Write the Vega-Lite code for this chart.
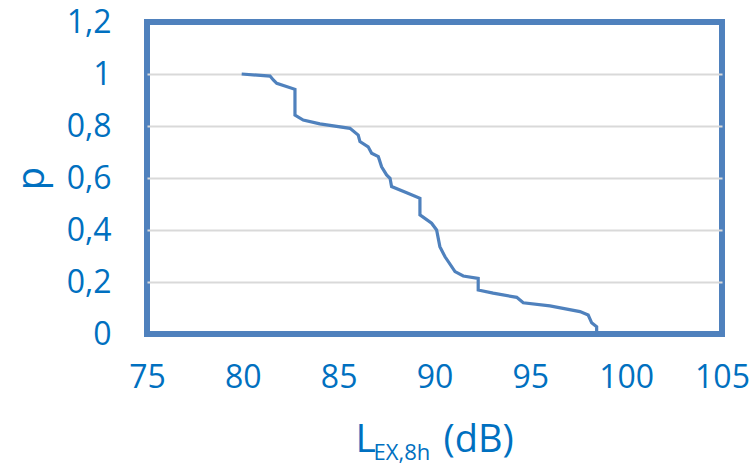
{
  "$schema": "https://vega.github.io/schema/vega-lite/v6.json",
  "width": 575,
  "height": 312,
  "autosize": {"type": "none"},
  "padding": {"left": 147, "top": 22, "right": 32, "bottom": 130},
  "background": "#FFFFFF",
  "config": {
    "view": {"stroke": "#4F81BD", "strokeWidth": 6},
    "axis": {"labelFont": "Open Sans", "titleFont": "Open Sans", "labelColor": "#0070C0", "titleColor": "#0070C0", "titleFontWeight": "normal"}
  },
  "data": {
    "values": [
      {"L": 79.94, "p": 1.0},
      {"L": 81.42, "p": 0.992},
      {"L": 81.59, "p": 0.977},
      {"L": 81.77, "p": 0.964},
      {"L": 82.72, "p": 0.941},
      {"L": 82.72, "p": 0.842},
      {"L": 83.15, "p": 0.823},
      {"L": 84.02, "p": 0.808},
      {"L": 85.59, "p": 0.791},
      {"L": 86.02, "p": 0.765},
      {"L": 86.11, "p": 0.74},
      {"L": 86.54, "p": 0.72},
      {"L": 86.72, "p": 0.695},
      {"L": 87.07, "p": 0.682},
      {"L": 87.24, "p": 0.643},
      {"L": 87.5, "p": 0.612},
      {"L": 87.68, "p": 0.599},
      {"L": 87.76, "p": 0.567},
      {"L": 88.55, "p": 0.543},
      {"L": 89.24, "p": 0.522},
      {"L": 89.24, "p": 0.458},
      {"L": 89.85, "p": 0.426},
      {"L": 90.11, "p": 0.4},
      {"L": 90.28, "p": 0.336},
      {"L": 90.55, "p": 0.297},
      {"L": 91.07, "p": 0.24},
      {"L": 91.5, "p": 0.223},
      {"L": 92.28, "p": 0.214},
      {"L": 92.28, "p": 0.169},
      {"L": 93.06, "p": 0.157},
      {"L": 94.29, "p": 0.141},
      {"L": 94.63, "p": 0.12},
      {"L": 96.02, "p": 0.108},
      {"L": 97.59, "p": 0.086},
      {"L": 98.02, "p": 0.073},
      {"L": 98.2, "p": 0.043},
      {"L": 98.46, "p": 0.028},
      {"L": 98.46, "p": 0.004}
    ]
  },
  "encoding": {
    "y": {
      "field": "p", "type": "quantitative",
      "scale": {"domain": [0, 1.2], "nice": false, "zero": false},
      "axis": {
        "values": [0, 0.2, 0.4, 0.6, 0.8, 1, 1.2],
        "labelExpr": "replace(format(datum.value, '.1~f'), '.', ',')",
        "labelFontSize": 32, "labelPadding": 36, "ticks": false, "domain": false, "labelFlush": false, "labelOverlap": false,
        "grid": true, "gridColor": "#D9D9D9", "gridWidth": 2,
        "gridOpacity": {"condition": {"test": "datum.value < 0.01 || datum.value > 1.19", "value": 0}, "value": 1},
        "title": "p", "titleFontSize": 38, "titleAngle": -90, "titleBaseline": "alphabetic",
        "titleAlign": "center", "titleX": -104, "titleY": 156
      }
    },
    "order": {"field": "p", "sort": "descending"}
  },
  "layer": [
    {
      "mark": {"type": "line", "color": "#4F81BD", "strokeWidth": 3.2, "interpolate": "linear"},
      "encoding": {
        "x": {
          "field": "L", "type": "quantitative",
          "scale": {"domain": [75, 105], "nice": false, "zero": false},
          "axis": {"orient": "bottom", "values": [75, 80, 85, 90, 95, 100, 105], "labelFontSize": 32, "labelPadding": 28, "labelFlush": false, "labelOverlap": false, "ticks": false, "domain": false, "grid": false, "title": null}
        }
      }
    },
    {
      "mark": {"type": "line", "opacity": 0},
      "encoding": {
        "x": {
          "field": "L", "type": "quantitative",
          "axis": {"orient": "bottom", "labels": false, "ticks": false, "domain": false, "grid": false, "title": "L", "titleFontSize": 39, "titleBaseline": "alphabetic", "titleAlign": "left", "titleX": 208, "titleY": 117}
        }
      }
    },
    {
      "mark": {"type": "line", "opacity": 0},
      "encoding": {
        "x": {
          "field": "L", "type": "quantitative",
          "axis": {"orient": "bottom", "labels": false, "ticks": false, "domain": false, "grid": false, "title": "EX,8h", "titleFontSize": 22, "titleBaseline": "alphabetic", "titleAlign": "left", "titleX": 226, "titleY": 125}
        }
      }
    },
    {
      "mark": {"type": "line", "opacity": 0},
      "encoding": {
        "x": {
          "field": "L", "type": "quantitative",
          "axis": {"orient": "bottom", "labels": false, "ticks": false, "domain": false, "grid": false, "title": "(dB)", "titleFontSize": 38, "titleBaseline": "alphabetic", "titleAlign": "left", "titleX": 296, "titleY": 117}
        }
      }
    }
  ],
  "resolve": {"axis": {"x": "independent"}}
}
